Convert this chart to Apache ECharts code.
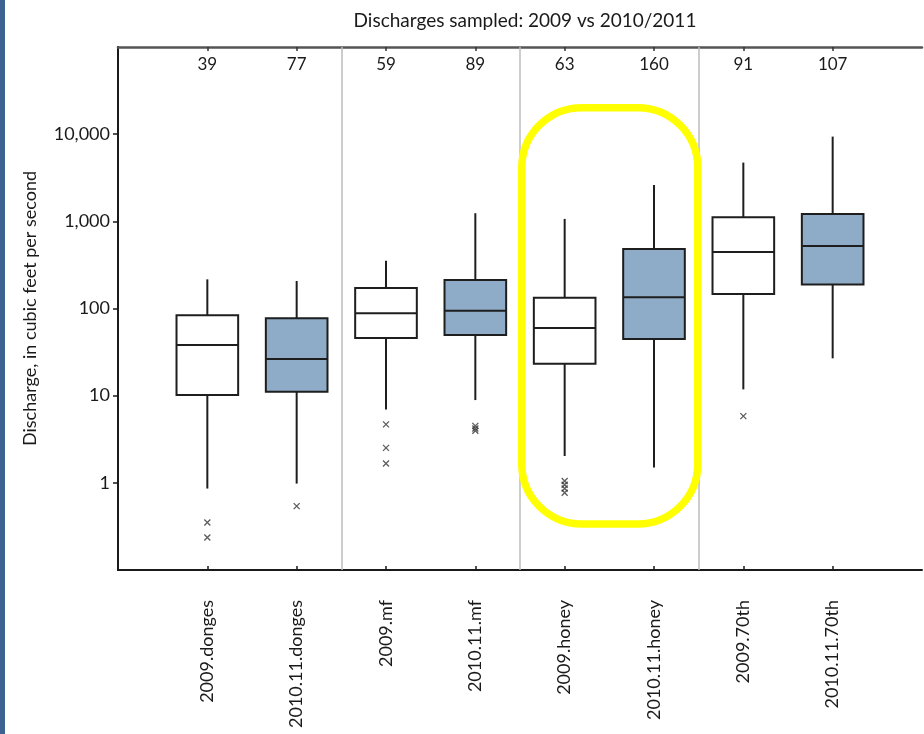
<!DOCTYPE html>
<html>
<head>
<meta charset="utf-8">
<script src="https://cdn.jsdelivr.net/npm/echarts@6/dist/echarts.min.js"></script>
<style>
  html, body { margin: 0; padding: 0; background: #ffffff; }
  #chart { width: 924px; height: 734px; }
</style>
</head>
<body>
<div id="chart"></div>
<script>
// Sampling sites and periods, one box per entry
const categories = ['2009.donges', '2010.11.donges', '2009.mf', '2010.11.mf',
                    '2009.honey', '2010.11.honey', '2009.70th', '2010.11.70th'];
// Number of samples behind each box
const sampleCounts = [39, 77, 59, 89, 63, 160, 91, 107];
// Box statistics, discharge in cubic feet per second
const whiskerLow  = [0.86, 0.98, 6.96, 8.9, 2.03, 1.50, 11.8, 26.8];
const quartile1   = [10.2, 11.1, 45.8, 49.6, 23.2, 44.7, 147, 188];
const medians     = [38.1, 26.3, 88, 94.4, 59.7, 134.5, 445, 522];
const quartile3   = [83.5, 77.1, 172, 212, 133, 482, 1114, 1217];
const whiskerHigh = [216, 207, 354, 1239, 1066, 2618, 4720, 9380];
// Outlying samples: [box number, discharge]
const outliers = [
  [1, 0.35], [1, 0.236],
  [2, 0.54],
  [3, 4.68], [3, 2.52], [3, 1.67],
  [4, 4.5], [4, 4.2], [4, 3.95],
  [5, 1.05], [5, 0.95], [5, 0.86], [5, 0.77],
  [7, 5.83]
];
// Axis tick labels
const yTickValues = [1, 10, 100, 1000, 10000];
// Boundaries between the four sites
const siteBoundaries = [2.5, 4.5, 6.5];
// Highlight around the honey site (x range in box units, y range in cfs)
const highlightX = [4.52, 6.49];
const highlightY = [20150, 0.338];

const FONT = 'Lato';
const TEXT = '#1a1a1a';
const BLUE = '#8eabc7';
const BOX_WIDTH = 0.69;

const chart = echarts.init(document.getElementById('chart'), null, { renderer: 'canvas' });

const boxData = categories.map((c, i) => [i + 1, whiskerLow[i], quartile1[i], medians[i], quartile3[i], whiskerHigh[i]]);
const tickPositions = categories.map((c, i) => i + 1);

function renderBox(params, api) {
  const x = api.value(0);
  const idx = params.dataIndex;
  const fill = categories[idx].indexOf('2009') === 0 ? '#ffffff' : BLUE;
  const low = api.coord([x, api.value(1)]);
  const q1 = api.coord([x, api.value(2)]);
  const med = api.coord([x, api.value(3)]);
  const q3 = api.coord([x, api.value(4)]);
  const high = api.coord([x, api.value(5)]);
  const left = api.coord([x - BOX_WIDTH / 2, api.value(3)])[0];
  const right = api.coord([x + BOX_WIDTH / 2, api.value(3)])[0];
  const stroke = { stroke: '#1e1e1e', lineWidth: 2 };
  return {
    type: 'group',
    children: [
      { type: 'line', shape: { x1: low[0], y1: low[1], x2: q1[0], y2: q1[1] }, style: stroke },
      { type: 'line', shape: { x1: q3[0], y1: q3[1], x2: high[0], y2: high[1] }, style: stroke },
      { type: 'rect', shape: { x: left, y: q3[1], width: right - left, height: q1[1] - q3[1] },
        style: { fill: fill, stroke: '#1e1e1e', lineWidth: 2 } },
      { type: 'line', shape: { x1: left, y1: med[1], x2: right, y2: med[1] }, style: stroke }
    ]
  };
}

function renderHighlight(params, api) {
  const p1 = api.coord([api.value(0), api.value(2)]);
  const p2 = api.coord([api.value(1), api.value(3)]);
  return {
    type: 'rect',
    shape: { x: p1[0], y: p1[1], width: p2[0] - p1[0], height: p2[1] - p1[1], r: 60 },
    style: { fill: 'none', stroke: '#ffff00', lineWidth: 7.5 },
    z2: 10
  };
}

const option = {
  backgroundColor: '#ffffff',
  animation: false,
  title: {
    text: 'Discharges sampled: 2009 vs 2010/2011',
    left: 520,
    top: 6,
    textAlign: 'center',
    textStyle: { fontFamily: FONT, fontSize: 19, fontWeight: 'normal', color: TEXT }
  },
  graphic: [
    { type: 'rect', left: 0, top: 0, shape: { width: 5, height: 734 }, style: { fill: '#3d6190' }, silent: true }
  ],
  grid: { left: 118, right: 2, top: 47, bottom: 164, containLabel: false },
  xAxis: [
    {
      type: 'value', position: 'bottom', min: 0, max: 9, interval: 1,
      splitLine: { show: false },
      axisLine: { show: true, lineStyle: { color: '#1a1a1a', width: 2 } },
      axisTick: { show: true, inside: true, length: 4, customValues: tickPositions,
                  lineStyle: { color: '#1a1a1a', width: 1.5 } },
      axisLabel: {
        show: true, rotate: 90, margin: 30, customValues: tickPositions,
        fontFamily: FONT, fontSize: 18, color: TEXT,
        formatter: v => categories[Math.round(v) - 1] || ''
      }
    },
    {
      type: 'value', position: 'top', min: 0, max: 9, interval: 1,
      splitLine: { show: false },
      axisLine: { show: true, lineStyle: { color: '#555555', width: 2.5 } },
      axisTick: { show: true, inside: true, length: 4, customValues: tickPositions,
                  lineStyle: { color: '#333333', width: 1.5 } },
      axisLabel: {
        show: true, inside: true, margin: 9, customValues: tickPositions,
        fontFamily: FONT, fontSize: 17, color: TEXT,
        formatter: v => String(sampleCounts[Math.round(v) - 1] ?? '')
      }
    }
  ],
  yAxis: [
    {
      type: 'log', logBase: 10, min: 0.1, max: 100000, position: 'left',
      name: 'Discharge, in cubic feet per second',
      nameLocation: 'middle', nameGap: 79,
      nameTextStyle: { fontFamily: FONT, fontSize: 18, color: TEXT },
      splitLine: { show: false },
      axisLine: { show: true, lineStyle: { color: '#1a1a1a', width: 2 } },
      axisTick: { show: true, inside: false, length: 5, customValues: yTickValues,
                  lineStyle: { color: '#1a1a1a', width: 1.5 } },
      axisLabel: {
        show: true, margin: 8, customValues: yTickValues,
        fontFamily: FONT, fontSize: 18, color: TEXT,
        formatter: v => Number(v).toLocaleString('en-US')
      }
    },
    {
      type: 'log', logBase: 10, min: 0.1, max: 100000, position: 'right',
      splitLine: { show: false },
      axisLine: { show: true, lineStyle: { color: '#1a1a1a', width: 2 } },
      axisTick: { show: false },
      axisLabel: { show: false }
    }
  ],
  series: [
    {
      name: 'sites',
      type: 'custom',
      xAxisIndex: 0, yAxisIndex: 0,
      data: [],
      renderItem: () => null,
      silent: true,
      markLine: {
        silent: true, symbol: ['none', 'none'], animation: false,
        label: { show: false },
        lineStyle: { color: '#bdbdbd', width: 1.5, type: 'solid' },
        data: siteBoundaries.map(b => ({ xAxis: b }))
      },
      z: 1
    },
    {
      name: 'boxes',
      type: 'custom',
      xAxisIndex: 0, yAxisIndex: 0,
      data: boxData,
      renderItem: renderBox,
      encode: { x: 0, y: [1, 2, 3, 4, 5] },
      silent: true,
      z: 3
    },
    {
      name: 'outliers',
      type: 'scatter',
      xAxisIndex: 0, yAxisIndex: 0,
      data: outliers,
      symbol: 'path://M0,0L10,10M10,0L0,10',
      symbolSize: 6,
      itemStyle: { color: 'none', borderColor: '#333333', borderWidth: 1.3 },
      silent: true,
      z: 4
    },
    {
      name: 'highlight',
      type: 'custom',
      xAxisIndex: 0, yAxisIndex: 0,
      data: [[highlightX[0], highlightX[1], highlightY[0], highlightY[1]]],
      renderItem: renderHighlight,
      encode: { x: [0, 1], y: [2, 3] },
      silent: true,
      z: 6
    }
  ]
};

chart.setOption(option);
</script>
</body>
</html>
